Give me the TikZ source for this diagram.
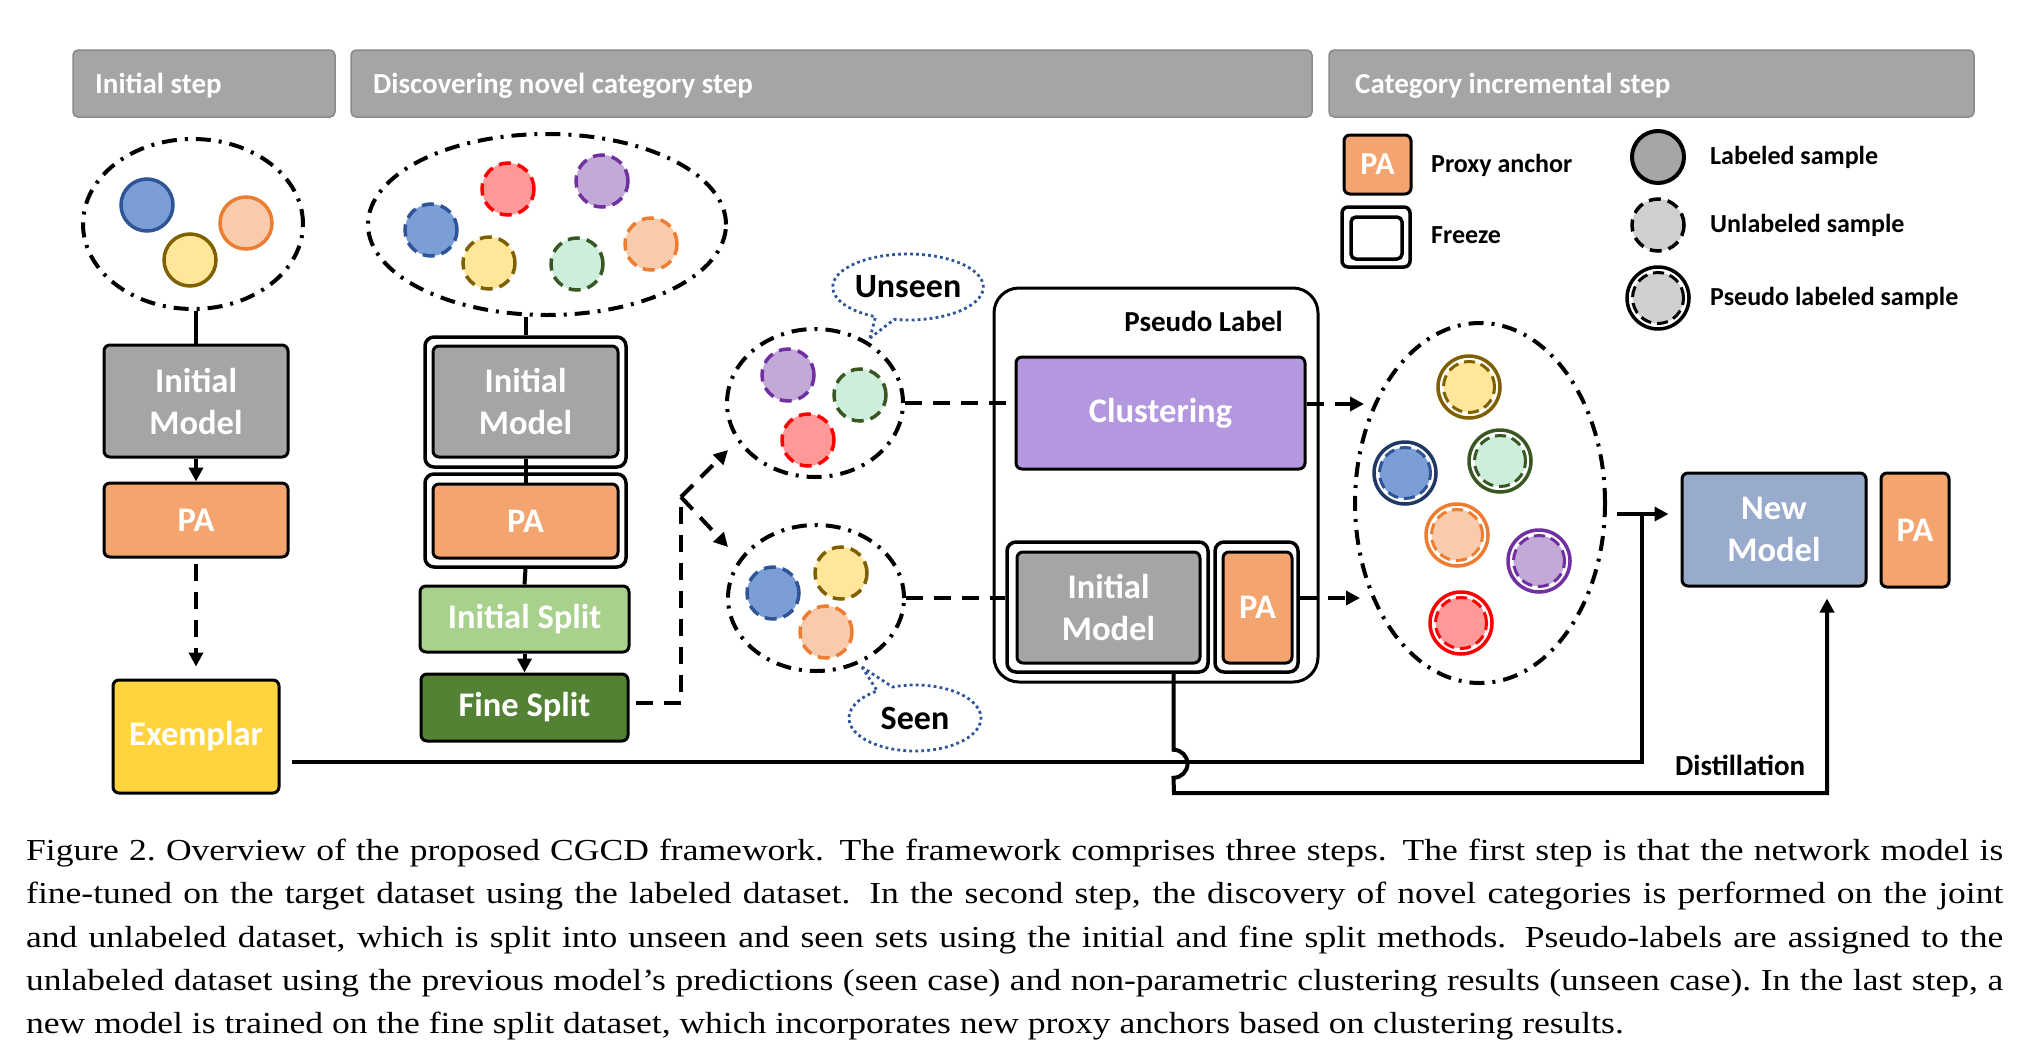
\documentclass[tikz,border=0pt]{standalone}
\usepackage{fontspec}
\setmainfont{Liberation Serif}
\newfontfamily\carl{Carlito}
\usetikzlibrary{shapes.geometric,shapes.callouts,arrows.meta,calc}
\definecolor{boxgray}{HTML}{A5A5A5}
\definecolor{hdredge}{HTML}{8A8A8A}
\definecolor{paor}{HTML}{F4A46E}
\definecolor{exyel}{HTML}{FFD43F}
\definecolor{isgreen}{HTML}{A9D18E}
\definecolor{fsgreen}{HTML}{548235}
\definecolor{clpurple}{HTML}{B398E0}
\definecolor{nmblue}{HTML}{98ABCC}
\definecolor{cblueF}{HTML}{7B9ED6}\definecolor{cblueD}{HTML}{2F5597}
\definecolor{corF}{HTML}{F8CBAD}\definecolor{corD}{HTML}{ED7D31}
\definecolor{cyeF}{HTML}{FFE699}\definecolor{cyeD}{HTML}{7F6000}
\definecolor{credF}{HTML}{FF9999}\definecolor{credD}{HTML}{FF0000}
\definecolor{cpuF}{HTML}{C3A9D8}\definecolor{cpuD}{HTML}{7030A0}
\definecolor{cgrF}{HTML}{CCEEDB}\definecolor{cgrD}{HTML}{385723}
\definecolor{cnavy}{HTML}{1F3864}
\definecolor{lgray}{HTML}{A6A6A6}
\definecolor{ulgray}{HTML}{D0D0D0}
\definecolor{callblue}{HTML}{2F5597}
\newcommand{\capjust}[1]{\scalebox{1.165}[1]{\makebox[1697pt][s]{#1}}}
\newcommand{\capleft}[1]{\scalebox{1.165}[1]{#1}}
\tikzset{
  hdr/.style={fill=boxgray, draw=hdredge, line width=1.5pt, rounded corners=5pt, minimum height=67pt, inner sep=0pt},
  hdrtxt/.style={text=white, font=\carl\bfseries\fontsize{29}{34}\selectfont, inner sep=0pt},
  box/.style={draw=black, line width=3pt, rounded corners=6pt, inner sep=0pt, text=white, align=center, font=\carl\bfseries\fontsize{34.5}{42}\selectfont},
  frz/.style={draw=black, fill=white, line width=3.5pt, rounded corners=9pt, inner sep=0pt},
  dotell/.style={ellipse, draw=black, line width=4pt, dash pattern=on 15pt off 8pt on 3pt off 8pt, inner sep=0pt},
  samp/.style 2 args={circle, draw=#1, fill=#2, line width=3.5pt, minimum size=52pt, inner sep=0pt},
  dsamp/.style 2 args={circle, draw=#1, fill=#2, line width=3.5pt, dash pattern=on 12pt off 7pt, minimum size=52pt, inner sep=0pt},
  psout/.style={circle, draw=#1, fill=white, line width=3.5pt, minimum size=62pt, inner sep=0pt},
  psin/.style 2 args={circle, draw=#1, fill=#2, line width=3pt, dash pattern=on 11pt off 6pt, minimum size=51pt, inner sep=0pt},
  conn/.style={draw=black, line width=4pt},
  dconn/.style={draw=black, line width=4pt, dash pattern=on 17pt off 11pt},
  tip/.style={-{Triangle[length=14pt,width=14pt]}},
  callbub/.style={ellipse callout, draw=callblue, line width=2.8pt, dash pattern=on 2.8pt off 3.2pt, inner sep=0pt, font=\carl\bfseries\fontsize{34}{40}\selectfont},
  legtxt/.style={anchor=west, inner sep=0pt, font=\carl\bfseries\fontsize{26}{30}\selectfont},
  blk/.style={inner sep=0pt, font=\carl\bfseries\fontsize{29}{34}\selectfont},
  capline/.style={anchor=base west, inner sep=0pt, font=\fontsize{30.5}{43}\selectfont},
}
\begin{document}
\begin{tikzpicture}[x=1pt,y=-1pt]
\useasboundingbox (0,0) rectangle (2025,1058);
\fill[white] (0,0) rectangle (2025,1058);

% header bars
\node[hdr, minimum width=262pt] (h1) at (204,83.5) {};
\node[hdr, minimum width=961pt] (h2) at (831.5,83.5) {};
\node[hdr, minimum width=645pt] (h3) at (1651.5,83.5) {};
\node[hdrtxt, anchor=base west] (h1t) at (95,93) {Initial step};
\node[hdrtxt, anchor=base west] (h2t) at (373,93) {Discovering novel category step};
\node[hdrtxt, anchor=base west] (h3t) at (1355,93) {Category incremental step};

% ---------- Initial step column ----------
\node[dotell, minimum width=220pt, minimum height=170pt] (ell1) at (193,224) {};
\node[samp={cblueD}{cblueF}] (a1) at (147,205) {};
\node[samp={corD}{corF}] (a2) at (246,223) {};
\node[samp={cyeD}{cyeF}] (a3) at (190,260) {};
\node[box, fill=boxgray, minimum width=184pt, minimum height=112pt] (im1) at (196,401) {Initial\\Model};
\node[box, fill=paor, minimum width=184pt, minimum height=74pt] (pa1) at (196,520) {PA};
\node[box, fill=exyel, minimum width=166pt, minimum height=113pt] (ex) at (196,736.5) {Exemplar};
\draw[conn] (ell1.south -| im1.north) -- (im1.north);
\draw[conn, tip] (im1.south) -- (pa1.north);
\draw[dconn, tip, shorten <=5pt, shorten >=12pt] (pa1.south) -- (ex.north);

% ---------- Discovering column ----------
\node[dotell, minimum width=358pt, minimum height=181pt] (ell2) at (547,224.5) {};
\node[dsamp={cblueD}{cblueF}] (b1) at (431,230) {};
\node[dsamp={credD}{credF}] (b2) at (508,189) {};
\node[dsamp={cpuD}{cpuF}] (b3) at (602,181) {};
\node[dsamp={cyeD}{cyeF}] (b4) at (489,263) {};
\node[dsamp={cgrD}{cgrF}] (b5) at (577,264) {};
\node[dsamp={corD}{corF}] (b6) at (651,244) {};

\node[frz, minimum width=201pt, minimum height=130pt] (im2o) at (525.5,402) {};
\node[box, fill=boxgray, minimum width=185pt, minimum height=111pt] (im2) at (525.5,401.5) {Initial\\Model};
\node[frz, minimum width=201pt, minimum height=93pt] (pa2o) at (525.5,520.5) {};
\node[box, fill=paor, minimum width=185pt, minimum height=74pt] (pa2) at (525.5,521) {PA};
\node[box, fill=isgreen, minimum width=209pt, minimum height=66pt] (is) at (524.5,619) {Initial Split};
\node[box, fill=fsgreen, minimum width=207pt, minimum height=67pt] (fs) at (524.5,707.5) {Fine Split};
\draw[conn] (ell2.south -| im2o.north) -- (im2o.north);
\draw[conn] (im2.south) -- (pa2.north);
\draw[conn] (pa2o.south) -- (is.north);
\draw[conn, tip] (is.south) -- (fs.north);

% unseen / seen sets
\node[dotell, minimum width=176pt, minimum height=148pt] (unseen) at (815,403) {};
\node[dsamp={cpuD}{cpuF}] (u1) at (788,375) {};
\node[dsamp={cgrD}{cgrF}] (u2) at (860,395) {};
\node[dsamp={credD}{credF}] (u3) at (808,440) {};
\node[dotell, minimum width=176pt, minimum height=146pt] (seen) at (816,598) {};
\node[dsamp={cblueD}{cblueF}] (s1) at (773,593) {};
\node[dsamp={cyeD}{cyeF}] (s2) at (841,573) {};
\node[dsamp={corD}{corF}] (s3) at (826,632) {};
\node[callbub, minimum width=148pt, minimum height=66pt, callout absolute pointer={(870,338)}] (unseenlbl) at (908,287) {Unseen};
\node[callbub, minimum width=132pt, minimum height=66pt, callout absolute pointer={(862,667)}] (seenlbl) at (915,718) {Seen};

% fine split branching
\coordinate (fsout) at ($(fs.east)+(6,-5)$);
\coordinate (br) at (681,497);
\coordinate (tipU) at (728,450);
\coordinate (tipL) at (728,547);
\draw[dconn] (fsout) -- (fsout -| br) -- (br);
\draw[dconn, tip] (br) -- (tipU);
\draw[dconn, tip] (br) -- (tipL);

% pseudo label box
\node[draw=black, line width=3pt, rounded corners=25pt, minimum width=324pt, minimum height=394pt, inner sep=0pt] (plbox) at (1156,485) {};
\node[blk, anchor=base east] (pltxt) at (1283,331) {Pseudo Label};
\node[box, fill=clpurple, minimum width=289pt, minimum height=112pt] (clus) at (1160.5,413) {Clustering};
\node[frz, minimum width=201pt, minimum height=130pt] (im3o) at (1107.5,607) {};
\node[box, fill=boxgray, minimum width=183pt, minimum height=111pt] (im3) at (1108.5,607.5) {Initial\\Model};
\node[frz, minimum width=83pt, minimum height=130pt] (pa3o) at (1256.5,607) {};
\node[box, fill=paor, minimum width=69pt, minimum height=111pt] (pa3) at (1257.5,607.5) {PA};
\draw[dconn] (unseen.east) -- (unseen.east -| clus.west);
\draw[dconn] (seen.east) -- (seen.east -| im3o.west);

% pseudo labelled set
\node[dotell, minimum width=250pt, minimum height=360pt] (ell3) at (1480,503) {};
\node[psout=cyeD] (p1o) at (1469,387) {};
\node[psin={cyeD}{cyeF}] (p1) at (p1o) {};
\node[psout=cnavy] (p2o) at (1405,473) {};
\node[psin={cblueD}{cblueF}] (p2) at (p2o) {};
\node[psout=cgrD] (p3o) at (1500,461) {};
\node[psin={cgrD}{cgrF}] (p3) at (p3o) {};
\node[psout=corD] (p4o) at (1457,535) {};
\node[psin={corD}{corF}] (p4) at (p4o) {};
\node[psout=cpuD] (p5o) at (1539,561) {};
\node[psin={cpuD}{cpuF}] (p5) at (p5o) {};
\node[psout=credD] (p6o) at (1461,623) {};
\node[psin={credD}{credF}] (p6) at (p6o) {};

\coordinate (clout) at ($(clus.east)+(0,-9)$);
\coordinate (clin) at (1364,404);
\coordinate (paout) at ($(pa3o.east)+(0,-9)$);
\coordinate (pain) at (1360,598);
\draw[dconn, tip] (clout) -- (clin);
\draw[dconn, tip] (paout) -- (pain);

% new model
\node[box, fill=nmblue, minimum width=184pt, minimum height=113pt] (newm) at (1774,529.5) {New\\Model};
\node[box, fill=paor, minimum width=68pt, minimum height=114pt] (pa4) at (1915,530) {PA};
\coordinate (e3out) at ($(ell3.east)+(10,11)$);
\coordinate (nmin) at ($(newm.west)+(-12,-15.5)$);
\draw[conn, tip] (e3out) -- (nmin);

% exemplar line
\coordinate (exo) at ($(ex.east)+(11,25.5)$);
\coordinate (exj) at (1642,514);
\draw[conn] (exo) -- (exo -| exj) -- (exj);

% distillation line with jump
\coordinate (dstart) at ($(im3o.south)+(66,0)$);
\coordinate (dend) at ($(newm.south)+(53,11)$);
\draw[conn, tip] (dstart) -- ($(dstart)+(0,76)$) arc[start angle=-90, end angle=90, radius=14] -- (1174,793) -- (dend |- 0,793) -- (dend);
\node[blk, anchor=base west] (dist) at (1675,775) {Distillation};

% legend
\node[box, fill=paor, minimum width=67pt, minimum height=59pt, font=\carl\bfseries\fontsize{32}{36}\selectfont] (lpa) at (1377.5,164.5) {PA};
\node[legtxt] (lpat) at (1431,165) {Proxy anchor};
\node[frz, minimum width=68pt, minimum height=60pt, rounded corners=6pt] (lfo) at (1376,237) {};
\node[draw=black, line width=3.5pt, fill=white, rounded corners=5pt, minimum width=51pt, minimum height=42pt] (lfi) at (1376.5,238) {};
\node[legtxt] (lft) at (1431,235) {Freeze};
\node[circle, draw=black, fill=lgray, line width=4pt, minimum size=52pt, inner sep=0pt] (ll) at (1658,157) {};
\node[legtxt] (llt) at (1710,157) {Labeled sample};
\node[dsamp={black}{ulgray}] (lu) at (1658,225) {};
\node[legtxt] (lut) at (1710,225) {Unlabeled sample};
\node[psout=black] (lpo) at (1658,298) {};
\node[psin={black}{ulgray}] (lp) at (lpo) {};
\node[legtxt] (lpt) at (1710,298) {Pseudo labeled sample};

% caption
\node[capline] (c1) at (26,860) {\capjust{Figure 2.\ Overview of the proposed CGCD framework. The framework comprises three steps. The first step is that the network model is}};
\node[capline] (c2) at (26,903.5) {\capjust{fine-tuned on the target dataset using the labeled dataset. In the second step, the discovery of novel categories is performed on the joint}};
\node[capline] (c3) at (26,947) {\capjust{and unlabeled dataset, which is split into unseen and seen sets using the initial and fine split methods. Pseudo-labels are assigned to the}};
\node[capline] (c4) at (26,990) {\capjust{unlabeled dataset using the previous model’s predictions (seen case) and non-parametric clustering results (unseen case).\ In the last step, a}};
\node[capline] (c5) at (26,1033) {\capleft{new model is trained on the fine split dataset, which incorporates new proxy anchors based on clustering results.}};
\end{tikzpicture}
\end{document}
